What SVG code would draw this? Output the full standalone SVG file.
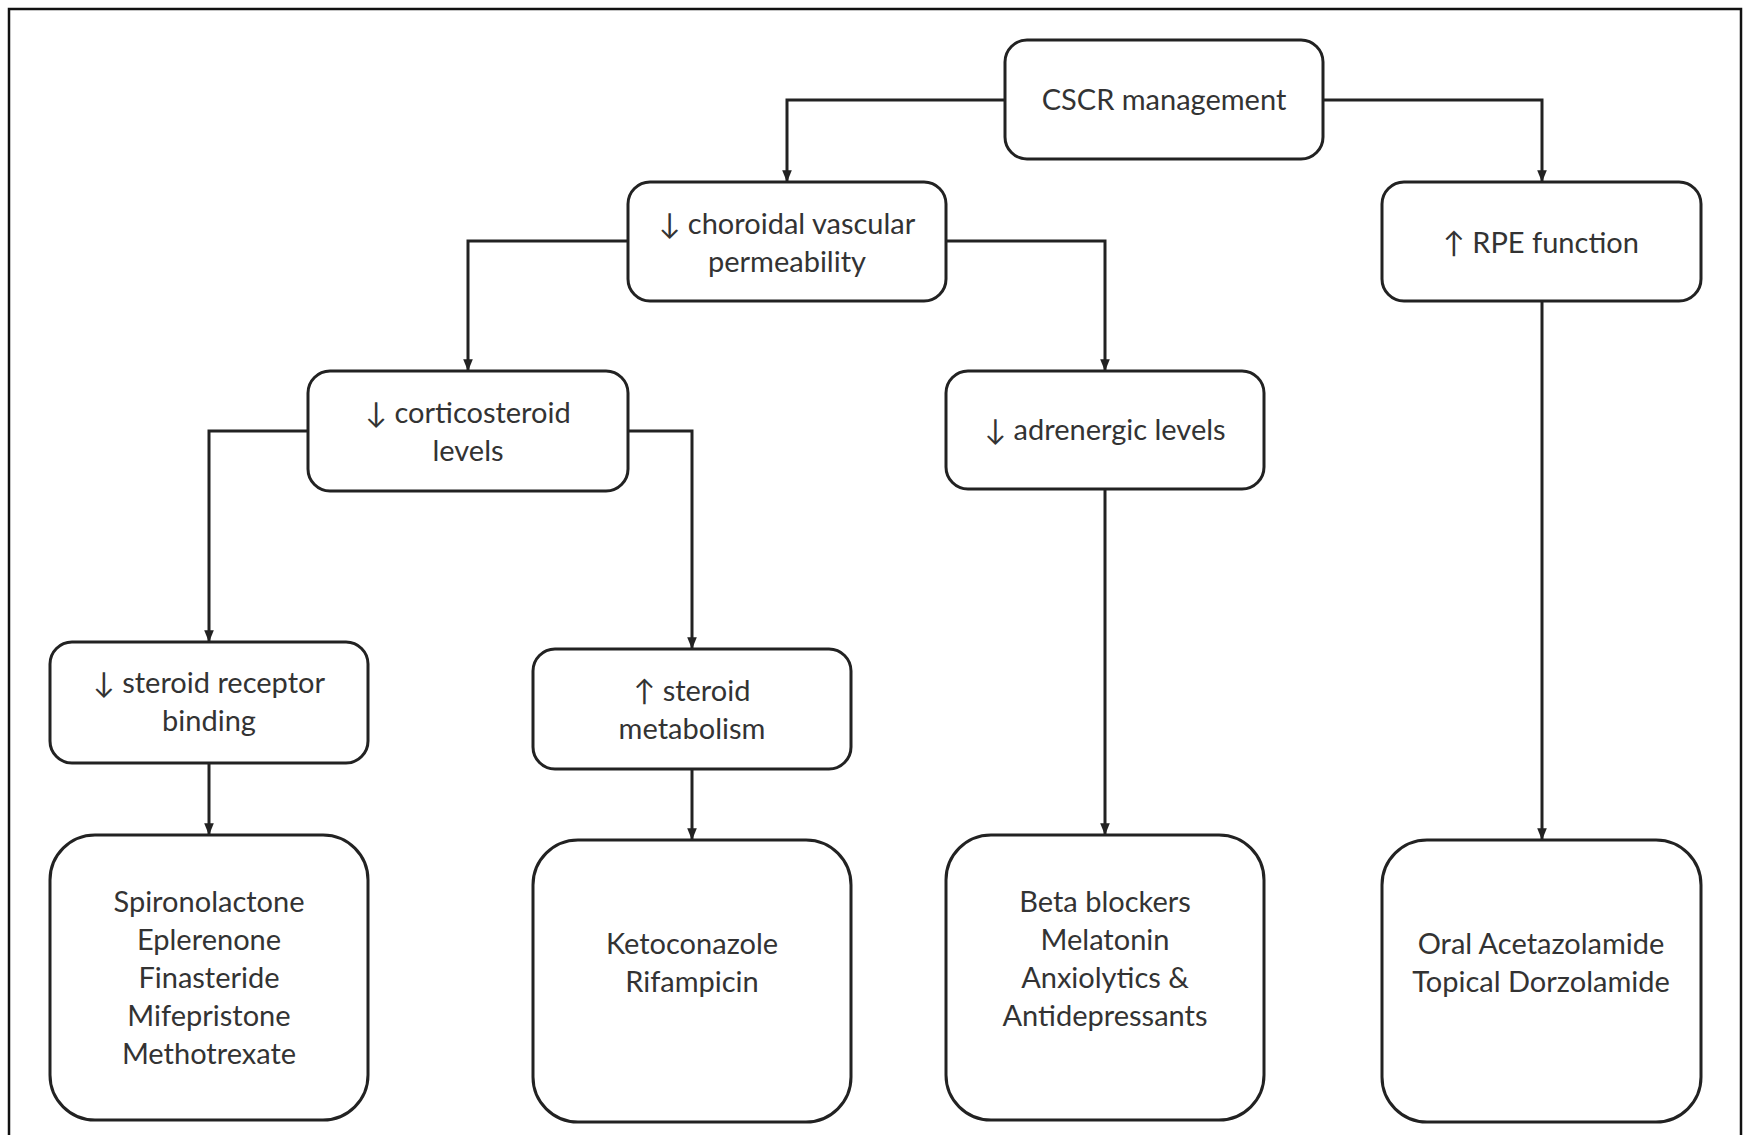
<svg xmlns="http://www.w3.org/2000/svg" width="1751" height="1135" viewBox="0 0 1751 1135">
<style>
.box{fill:#fff;stroke:#222;stroke-width:3}
.t{font-family:Lato,"Open Sans","DejaVu Sans",sans-serif;font-size:29px;fill:#333;text-anchor:middle}
.c{fill:none;stroke:#222;stroke-width:3}
</style>
<defs>
<marker id="ah" viewBox="0 0 10 10" refX="9" refY="5" markerWidth="4" markerHeight="4" orient="auto" markerUnits="strokeWidth">
<path d="M0,1 L10,5 L0,9 Z" fill="#222"/>
</marker>
</defs>
<rect x="0" y="0" width="1751" height="1135" fill="#fff"/>
<rect x="9" y="9" width="1732" height="1135" fill="none" stroke="#111" stroke-width="2.5"/>
<g id="connectors">
<path class="c" d="M1005,100 H787 V181" marker-end="url(#ah)"/>
<path class="c" d="M1323,100 H1542 V181" marker-end="url(#ah)"/>
<path class="c" d="M628,241 H468 V370" marker-end="url(#ah)"/>
<path class="c" d="M946,241 H1105 V370" marker-end="url(#ah)"/>
<path class="c" d="M308,431 H209 V641" marker-end="url(#ah)"/>
<path class="c" d="M628,431 H692 V648" marker-end="url(#ah)"/>
<path class="c" d="M209,763 V834" marker-end="url(#ah)"/>
<path class="c" d="M692,769 V839" marker-end="url(#ah)"/>
<path class="c" d="M1105,489 V834" marker-end="url(#ah)"/>
<path class="c" d="M1542,301 V839" marker-end="url(#ah)"/>
</g>
<g id="n-cscr"><rect class="box" x="1005" y="40" width="318" height="119" rx="22"/><text class="t" x="1164" y="110">CSCR management</text></g>
<g id="n-choroidal"><rect class="box" x="628" y="182" width="318" height="119" rx="22"/><text class="t" x="787" y="234">↓ choroidal vascular</text><text class="t" x="787" y="272">permeability</text></g>
<g id="n-rpe"><rect class="box" x="1382" y="182" width="319" height="119" rx="22"/><text class="t" x="1541" y="253">↑ RPE function</text></g>
<g id="n-cortico"><rect class="box" x="308" y="371" width="320" height="120" rx="22"/><text class="t" x="468" y="423">↓ corticosteroid</text><text class="t" x="468" y="461">levels</text></g>
<g id="n-adrenergic"><rect class="box" x="946" y="371" width="318" height="118" rx="22"/><text class="t" x="1105" y="440">↓ adrenergic levels</text></g>
<g id="n-receptor"><rect class="box" x="50" y="642" width="318" height="121" rx="22"/><text class="t" x="209" y="693">↓ steroid receptor</text><text class="t" x="209" y="731">binding</text></g>
<g id="n-metabolism"><rect class="box" x="533" y="649" width="318" height="120" rx="22"/><text class="t" x="692" y="701">↑ steroid</text><text class="t" x="692" y="739">metabolism</text></g>
<g id="n-drugs1"><rect class="box" x="50" y="835" width="318" height="285" rx="45"/><text class="t" x="209" y="912">Spironolactone</text><text class="t" x="209" y="950">Eplerenone</text><text class="t" x="209" y="988">Finasteride</text><text class="t" x="209" y="1026">Mifepristone</text><text class="t" x="209" y="1064">Methotrexate</text></g>
<g id="n-drugs2"><rect class="box" x="533" y="840" width="318" height="282" rx="45"/><text class="t" x="692" y="954">Ketoconazole</text><text class="t" x="692" y="992">Rifampicin</text></g>
<g id="n-drugs3"><rect class="box" x="946" y="835" width="318" height="285" rx="45"/><text class="t" x="1105" y="912">Beta blockers</text><text class="t" x="1105" y="950">Melatonin</text><text class="t" x="1105" y="988">Anxiolytics &amp;</text><text class="t" x="1105" y="1026">Antidepressants</text></g>
<g id="n-drugs4"><rect class="box" x="1382" y="840" width="319" height="282" rx="45"/><text class="t" x="1541" y="954">Oral Acetazolamide</text><text class="t" x="1541" y="992">Topical Dorzolamide</text></g>
</svg>
